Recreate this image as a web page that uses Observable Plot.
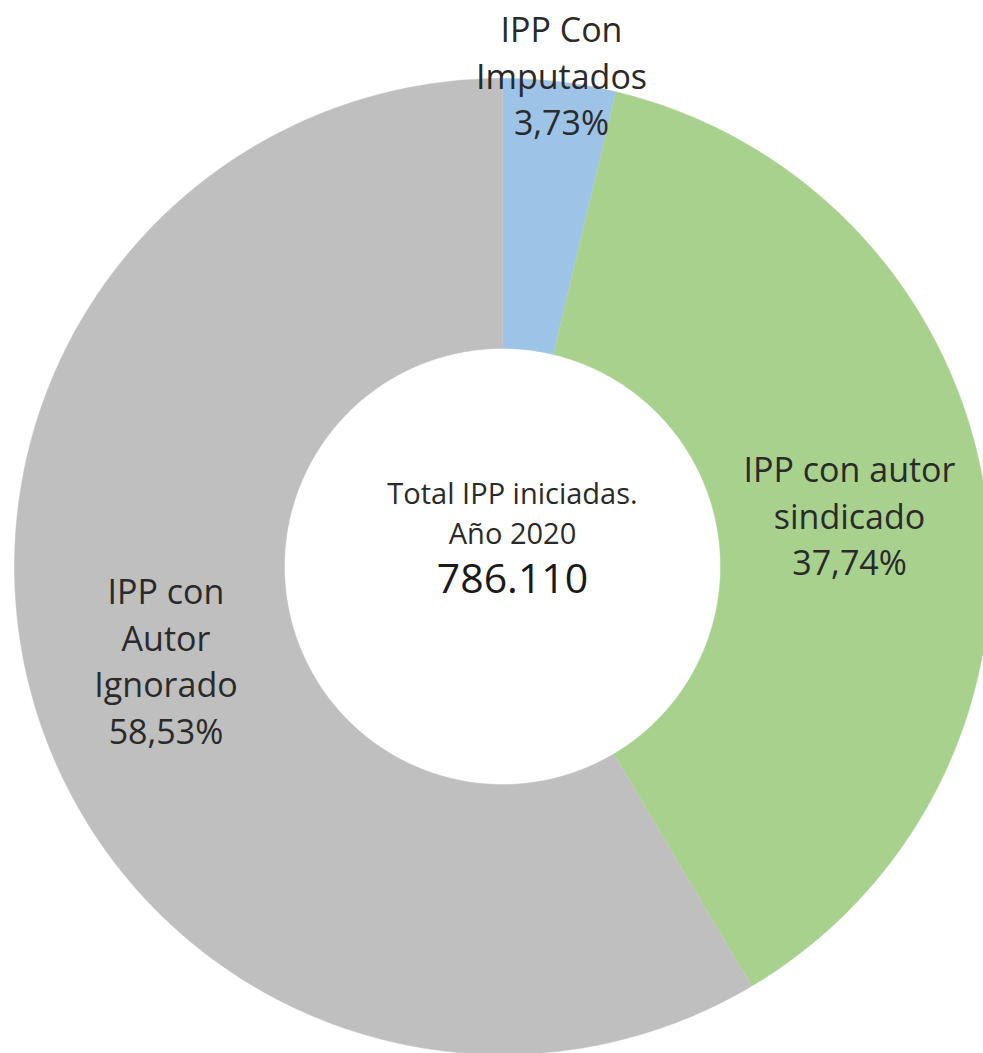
<!DOCTYPE html>
<html>
<head>
<meta charset="utf-8">
<script src="https://cdn.jsdelivr.net/npm/d3@7"></script>
<script src="https://cdn.jsdelivr.net/npm/@observablehq/plot@0.6"></script>
<style>
  html, body { margin: 0; padding: 0; background: #ffffff; }
  #chart svg { display: block; }
</style>
</head>
<body>
<div id="chart"></div>
<script>
// ---- Data ----
const categories = ["IPP Con\nImputados", "IPP con autor\nsindicado", "IPP con\nAutor\nIgnorado"];
const shares = [3.73, 37.74, 58.53];
const colors = ["#9dc3e6", "#a9d18e", "#bfbfbf"];
const centerTitle = "Total IPP iniciadas.";
const centerYear = "Año 2020";
const centerTotal = "786.110";

// ---- Layout ----
const W = 983, H = 1053;
const cx = 502, cy = 566;     // donut centre in pixels
const R = 488, r0 = 218;      // outer / inner radius

const pie = d3.pie().sort(null).value(d => d.value);
const arcs = pie(categories.map((c, i) => ({name: c, value: shares[i], color: colors[i]})));

// polygon vertices in data space (centre = 0,0; y up)
const pt = (rad, a) => [rad * Math.sin(a), rad * Math.cos(a)];
const poly = [];
arcs.forEach((a, i) => {
  const n = Math.max(4, Math.ceil((a.endAngle - a.startAngle) / (Math.PI / 360)));
  for (let k = 0; k <= n; k++) {
    const t = a.startAngle + (a.endAngle - a.startAngle) * k / n;
    const [x, y] = pt(R, t);
    poly.push({slice: i, x, y, color: a.data.color});
  }
  for (let k = n; k >= 0; k--) {
    const t = a.startAngle + (a.endAngle - a.startAngle) * k / n;
    const [x, y] = pt(r0, t);
    poly.push({slice: i, x, y, color: a.data.color});
  }
});

const fmt = v => v.toFixed(2).replace(".", ",") + "%";
const labels = arcs.map((a, i) => {
  const mid = (a.startAngle + a.endAngle) / 2;
  const lr = i === 0 ? 496 : 350;
  const [x, y] = pt(lr, mid);
  return {x, y, text: a.data.name + "\n" + fmt(a.data.value)};
});

const chart = Plot.plot({
  width: W,
  height: H,
  margin: 0,
  style: {background: "#ffffff", fontFamily: "'Open Sans', sans-serif"},
  x: {domain: [-cx, W - cx], range: [0, W], axis: null},
  y: {domain: [-(H - cy), cy], range: [H, 0], axis: null},
  marks: [
    Plot.line(poly, {x: "x", y: "y", z: "slice", fill: "color", stroke: "color", strokeWidth: 0.5, curve: "linear"}),
    Plot.text(labels, {x: "x", y: "y", text: "text", fontSize: 34, lineHeight: 1.37, fill: "#2a2a2a", textAnchor: "middle", dx: 1}),
    Plot.text([centerTitle], {x: () => 0, y: () => 0, text: d => d, fontSize: 29, fill: "#2a2a2a", dx: 10, dy: -72}),
    Plot.text([centerYear], {x: () => 0, y: () => 0, text: d => d, fontSize: 29, fill: "#2a2a2a", dx: 10, dy: -32}),
    Plot.text([centerTotal], {x: () => 0, y: () => 0, text: d => d, fontSize: 41, fill: "#1a1a1a", dx: 10, dy: 13})
  ]
});

document.getElementById("chart").appendChild(chart);
</script>
</body>
</html>
